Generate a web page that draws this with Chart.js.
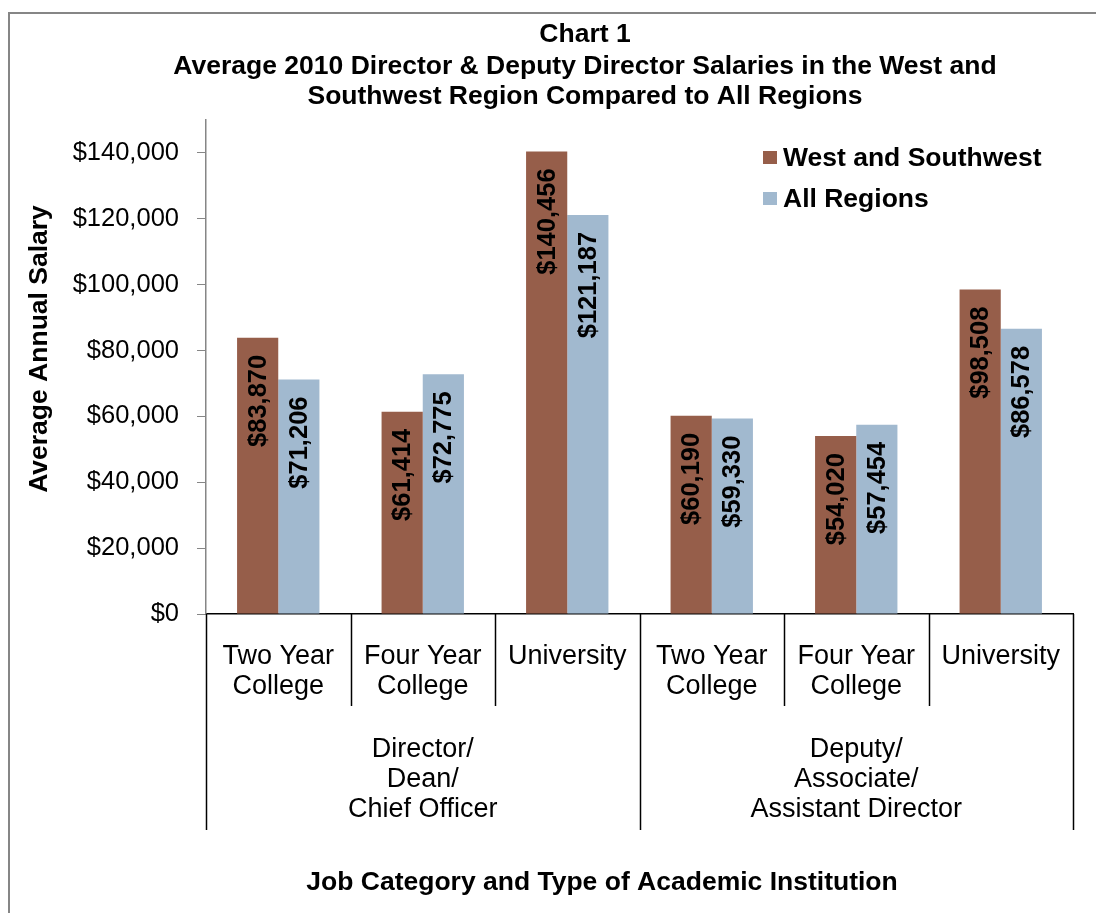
<!DOCTYPE html>
<html>
<head>
<meta charset="utf-8">
<script src="https://cdn.jsdelivr.net/npm/chart.js@4.4.1/dist/chart.umd.min.js"></script>
<style>
  html, body { margin: 0; padding: 0; background: #fff; overflow: hidden; }
  .chartContainer { position: absolute; left: 0; top: 0; width: 1096px; height: 913px; }
</style>
</head>
<body>
<div class="chartContainer">
  <canvas id="salaryChart"></canvas>
</div>
<script>
// chart data
var categoryLines = [['Two Year', 'College'], ['Four Year', 'College'], ['University'],
                     ['Two Year', 'College'], ['Four Year', 'College'], ['University']];
var groupLines = [['Director/', 'Dean/', 'Chief Officer'], ['Deputy/', 'Associate/', 'Assistant Director']];
var groupSize = 3;
var westValues = [83870, 61414, 140456, 60190, 54020, 98508];
var allValues = [71206, 72775, 121187, 59330, 57454, 86578];
var seriesNames = ['West and Southwest', 'All Regions'];
var titleLines = ['Chart 1', 'Average 2010 Director & Deputy Director Salaries in the West and', 'Southwest Region Compared to All Regions'];
var yTitle = 'Average Annual Salary';
var xTitle = 'Job Category and Type of Academic Institution';
var yTicks = [0, 20000, 40000, 60000, 80000, 100000, 120000, 140000];
var yMax = 150000;

var FONT = '"Liberation Sans", Arial, sans-serif';
var brown = '#965E4A';
var blue = '#A1B9CF';

function money(v) {
    return '$' + Math.round(v).toLocaleString('en-US');
}

var extras = {
    id: 'extras',
    beforeDraw: function (chart) {
        var ctx = chart.ctx;
        ctx.save();
        ctx.strokeStyle = '#868686';
        ctx.lineWidth = 2;
        ctx.beginPath();
        ctx.moveTo(9, 2000);
        ctx.lineTo(9, 13);
        ctx.lineTo(2000, 13);
        ctx.stroke();
        ctx.restore();
    },
    afterDatasetsDraw: function (chart) {
        var ctx = chart.ctx;
        ctx.save();
        ctx.font = 'bold 25.5px ' + FONT;
        ctx.fillStyle = '#000';
        ctx.textAlign = 'right';
        ctx.textBaseline = 'middle';
        chart.data.datasets.forEach(function (ds, di) {
            var meta = chart.getDatasetMeta(di);
            meta.data.forEach(function (bar, i) {
                ctx.save();
                ctx.translate(bar.x, bar.y + 17);
                ctx.rotate(-Math.PI / 2);
                ctx.fillText(money(ds.data[i]), 0, 1);
                ctx.restore();
            });
        });
        ctx.restore();
    },
    afterDraw: function (chart) {
        var ctx = chart.ctx;
        var area = chart.chartArea;
        var n = categoryLines.length;
        var w = (area.right - area.left) / n;
        ctx.save();
        ctx.fillStyle = '#000';

        // title
        ctx.font = 'bold 26.5px ' + FONT;
        ctx.textAlign = 'center';
        ctx.textBaseline = 'middle';
        var titleY = [35, 67, 97];
        titleLines.forEach(function (t, i) { ctx.fillText(t, 585, titleY[i]); });

        // legend
        var legendY = [158, 199];
        var colors = [brown, blue];
        ctx.textAlign = 'left';
        seriesNames.forEach(function (name, i) {
            ctx.fillStyle = colors[i];
            ctx.fillRect(763, legendY[i] - 7, 14, 13);
            ctx.fillStyle = '#000';
            ctx.fillText(name, 783, legendY[i] + 1);
        });

        // y axis title
        ctx.save();
        ctx.translate(40, 349);
        ctx.rotate(-Math.PI / 2);
        ctx.textAlign = 'center';
        ctx.fillText(yTitle, 0, 0);
        ctx.restore();

        // x axis title
        ctx.textAlign = 'center';
        ctx.fillText(xTitle, 602, 883);

        // category dividers
        ctx.strokeStyle = '#000';
        ctx.lineWidth = 1.5;
        for (var i = 0; i <= n; i++) {
            var x = Math.round(area.left + i * w) + 0.5;
            var bottom = (i % groupSize === 0) ? 830 : 706;
            ctx.beginPath();
            ctx.moveTo(x, area.bottom);
            ctx.lineTo(x, bottom);
            ctx.stroke();
        }

        // category labels
        ctx.font = '27px ' + FONT;
        categoryLines.forEach(function (lines, i) {
            var cx = area.left + (i + 0.5) * w;
            lines.forEach(function (l, j) { ctx.fillText(l, cx, 657 + j * 30); });
        });

        // group labels
        groupLines.forEach(function (lines, g) {
            var cx = area.left + (g + 0.5) * groupSize * w;
            lines.forEach(function (l, j) { ctx.fillText(l, cx, 750 + j * 30); });
        });
        ctx.restore();
    }
};

var ctx = document.getElementById('salaryChart');
var chart = new Chart(ctx, {
    type: 'bar',
    data: {
        labels: categoryLines.map(function (l) { return l.join(' '); }),
        datasets: [
            { label: seriesNames[0], data: westValues, backgroundColor: brown, borderWidth: 0 },
            { label: seriesNames[1], data: allValues, backgroundColor: blue, borderWidth: 0 }
        ]
    },
    options: {
        responsive: true,
        maintainAspectRatio: false,
        animation: false,
        layout: { padding: { left: 0, right: 23, top: 120, bottom: 0 } },
        plugins: {
            legend: { display: false },
            title: { display: false },
            tooltip: { enabled: false }
        },
        datasets: { bar: { categoryPercentage: 0.57, barPercentage: 1 } },
        scales: {
            x: {
                ticks: { display: false },
                grid: { display: false },
                border: { color: '#000', width: 1.5 },
                afterFit: function (scale) { scale.height = 913 - 614; }
            },
            y: {
                min: 0,
                max: yMax,
                afterBuildTicks: function (scale) {
                    scale.ticks = yTicks.map(function (v) { return { value: v }; });
                },
                ticks: {
                    autoSkip: false,
                    color: '#000',
                    padding: 18,
                    font: { family: FONT, size: 25.5 },
                    callback: function (v) { return money(v); }
                },
                grid: { drawOnChartArea: false, drawTicks: true, tickLength: 9, color: '#868686' },
                border: { color: '#868686', width: 1.5 },
                afterFit: function (scale) { scale.width = 206; }
            }
        }
    },
    plugins: [extras]
});
</script>
</body>
</html>
